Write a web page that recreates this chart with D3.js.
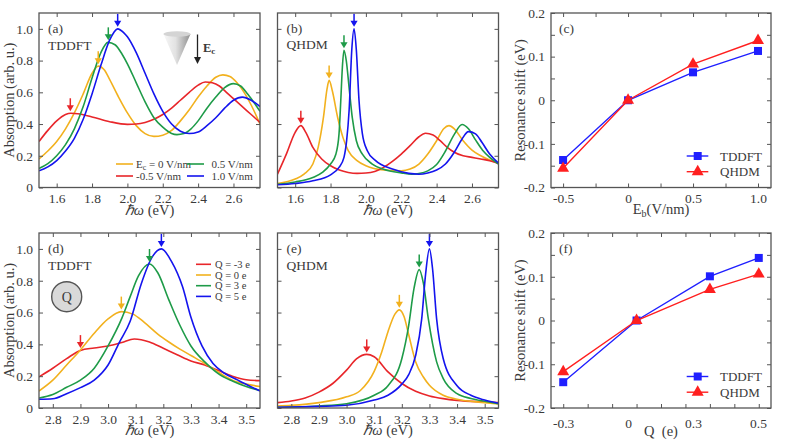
<!DOCTYPE html>
<html>
<head>
<meta charset="utf-8">
<script src="https://cdn.jsdelivr.net/npm/d3@7"></script>
<style>
  body { margin: 0; background: #fff; }
  svg, text { font-family: 'Liberation Serif', Tinos, 'Times New Roman', Times, serif; }
  text { fill: #3a3a3a; }
</style>
</head>
<body>
<div id="fig"></div>
<script>
// ---- data ----
// (a) TDDFT, external field E_c   [energy eV, absorption]
const aE0 = [[1.5,0.18],[1.55,0.23],[1.6,0.29],[1.65,0.37],[1.7,0.47],[1.75,0.59],[1.8,0.72],[1.835,0.765],[1.87,0.74],[1.9,0.68],[1.95,0.57],[2.0,0.47],[2.05,0.39],[2.1,0.34],[2.15,0.322],[2.2,0.33],[2.25,0.36],[2.3,0.42],[2.35,0.49],[2.4,0.57],[2.45,0.64],[2.5,0.695],[2.54,0.71],[2.58,0.7],[2.62,0.66],[2.66,0.6],[2.7,0.52],[2.75,0.4]];
const aEm05 = [[1.5,0.29],[1.55,0.36],[1.6,0.42],[1.65,0.46],[1.68,0.468],[1.72,0.465],[1.8,0.445],[1.9,0.415],[2.0,0.398],[2.05,0.4],[2.1,0.41],[2.15,0.43],[2.2,0.46],[2.25,0.5],[2.3,0.55],[2.35,0.6],[2.4,0.645],[2.44,0.665],[2.48,0.66],[2.52,0.64],[2.56,0.6],[2.6,0.56],[2.65,0.51],[2.7,0.46],[2.75,0.41]];
const aE05 = [[1.5,0.12],[1.55,0.15],[1.6,0.2],[1.65,0.27],[1.7,0.37],[1.75,0.51],[1.8,0.69],[1.85,0.85],[1.89,0.915],[1.93,0.9],[1.97,0.84],[2.0,0.78],[2.05,0.66],[2.1,0.54],[2.15,0.44],[2.2,0.38],[2.25,0.34],[2.28,0.333],[2.32,0.34],[2.36,0.37],[2.4,0.42],[2.45,0.5],[2.5,0.57],[2.55,0.63],[2.6,0.655],[2.64,0.64],[2.68,0.59],[2.72,0.53],[2.75,0.48]];
const aE10 = [[1.5,0.105],[1.55,0.13],[1.6,0.17],[1.65,0.23],[1.7,0.31],[1.75,0.43],[1.8,0.59],[1.85,0.77],[1.9,0.93],[1.945,1.0],[1.98,0.975],[2.0,0.95],[2.05,0.85],[2.1,0.72],[2.15,0.59],[2.2,0.48],[2.25,0.4],[2.3,0.355],[2.35,0.34],[2.4,0.35],[2.45,0.39],[2.5,0.44],[2.55,0.5],[2.6,0.55],[2.65,0.57],[2.7,0.55],[2.75,0.51]];
const aPeaks = [[1.835,0.765],[1.677,0.468],[1.892,0.915],[1.945,1.0]];

// (b) QHDM, external field
const bE0 = [[1.5,0.025],[1.6,0.053],[1.65,0.084],[1.7,0.148],[1.73,0.253],[1.76,0.443],[1.78,0.62],[1.792,0.675],[1.81,0.61],[1.84,0.443],[1.87,0.316],[1.9,0.232],[1.95,0.169],[2.0,0.137],[2.1,0.11],[2.2,0.105],[2.25,0.116],[2.3,0.148],[2.35,0.211],[2.4,0.295],[2.44,0.37],[2.47,0.39],[2.5,0.37],[2.55,0.295],[2.6,0.236],[2.65,0.2],[2.7,0.173],[2.75,0.154]];
const bEm05 = [[1.5,0.084],[1.55,0.21],[1.6,0.348],[1.632,0.39],[1.66,0.348],[1.7,0.253],[1.75,0.18],[1.8,0.137],[1.85,0.11],[1.9,0.095],[1.95,0.089],[2.0,0.091],[2.05,0.101],[2.1,0.127],[2.15,0.165],[2.2,0.211],[2.25,0.264],[2.3,0.32],[2.337,0.342],[2.38,0.331],[2.42,0.295],[2.46,0.253],[2.5,0.222],[2.55,0.2],[2.6,0.19],[2.65,0.18],[2.7,0.169],[2.75,0.152]];
const bE05 = [[1.5,0.02],[1.6,0.035],[1.7,0.063],[1.754,0.095],[1.8,0.148],[1.83,0.21],[1.848,0.338],[1.858,0.55],[1.867,0.76],[1.876,0.865],[1.889,0.8],[1.905,0.63],[1.923,0.44],[1.946,0.295],[1.98,0.21],[2.036,0.148],[2.1,0.115],[2.2,0.092],[2.26,0.084],[2.3,0.088],[2.35,0.105],[2.4,0.145],[2.45,0.23],[2.5,0.335],[2.544,0.397],[2.58,0.37],[2.62,0.3],[2.66,0.235],[2.7,0.19],[2.75,0.148]];
const bE10 = [[1.5,0.017],[1.6,0.025],[1.7,0.042],[1.8,0.08],[1.848,0.127],[1.876,0.19],[1.891,0.295],[1.905,0.485],[1.92,0.865],[1.933,1.0],[1.946,0.865],[1.961,0.55],[1.98,0.34],[2.008,0.232],[2.055,0.169],[2.15,0.116],[2.243,0.089],[2.3,0.084],[2.35,0.092],[2.4,0.11],[2.45,0.148],[2.5,0.222],[2.544,0.306],[2.58,0.352],[2.62,0.338],[2.656,0.285],[2.7,0.211],[2.75,0.154]];
const bPeaks = [[1.792,0.675],[1.632,0.39],[1.876,0.865],[1.933,1.0]];

// (d) TDDFT, charge Q
const dQm3 = [[2.75,0.196],[2.8,0.25],[2.85,0.31],[2.9,0.362],[2.95,0.377],[3.0,0.39],[3.05,0.412],[3.095,0.434],[3.15,0.415],[3.2,0.375],[3.25,0.335],[3.3,0.296],[3.35,0.27],[3.4,0.235],[3.45,0.2],[3.5,0.178],[3.55,0.172]];
const dQ0 = [[2.75,0.107],[2.8,0.175],[2.85,0.27],[2.9,0.365],[2.95,0.47],[3.0,0.56],[3.048,0.606],[3.09,0.59],[3.13,0.54],[3.18,0.465],[3.22,0.415],[3.26,0.37],[3.3,0.33],[3.35,0.28],[3.4,0.225],[3.45,0.175],[3.5,0.15],[3.55,0.135]];
const dQ3 = [[2.75,0.063],[2.8,0.085],[2.85,0.13],[2.9,0.175],[2.95,0.25],[3.0,0.39],[3.05,0.565],[3.08,0.7],[3.11,0.83],[3.15,0.905],[3.18,0.85],[3.22,0.68],[3.26,0.52],[3.3,0.39],[3.35,0.29],[3.4,0.215],[3.45,0.17],[3.5,0.135],[3.55,0.11]];
const dQ5 = [[2.75,0.055],[2.8,0.058],[2.85,0.09],[2.9,0.128],[2.95,0.175],[3.0,0.27],[3.04,0.41],[3.08,0.545],[3.12,0.78],[3.16,0.95],[3.193,1.0],[3.23,0.92],[3.27,0.76],[3.3,0.57],[3.34,0.39],[3.38,0.28],[3.42,0.22],[3.47,0.175],[3.51,0.14],[3.55,0.107]];
const dPeaks = [[2.9,0.364],[3.048,0.606],[3.15,0.905],[3.193,1.0]];

// (e) QHDM, charge Q
const eQm3 = [[2.75,0.034],[2.8,0.044],[2.85,0.063],[2.9,0.1],[2.95,0.154],[3.0,0.238],[3.037,0.31],[3.073,0.337],[3.1,0.322],[3.15,0.227],[3.2,0.154],[3.25,0.105],[3.3,0.076],[3.35,0.059],[3.4,0.048],[3.5,0.038],[3.55,0.034]];
const eQ0 = [[2.75,0.013],[2.8,0.017],[2.9,0.034],[3.0,0.07],[3.05,0.11],[3.1,0.23],[3.127,0.35],[3.15,0.48],[3.175,0.59],[3.191,0.617],[3.208,0.575],[3.225,0.46],[3.25,0.29],[3.278,0.195],[3.3,0.143],[3.35,0.08],[3.4,0.055],[3.5,0.034],[3.55,0.025]];
const eQ3 = [[2.75,0.005],[2.8,0.006],[2.9,0.013],[3.0,0.027],[3.1,0.08],[3.15,0.14],[3.2,0.31],[3.225,0.52],[3.244,0.75],[3.263,0.87],[3.278,0.785],[3.296,0.56],[3.326,0.29],[3.35,0.185],[3.4,0.09],[3.45,0.06],[3.5,0.042],[3.55,0.027]];
const eQ5 = [[2.75,0.004],[2.8,0.006],[2.9,0.01],[3.0,0.017],[3.1,0.05],[3.15,0.08],[3.2,0.15],[3.225,0.21],[3.25,0.33],[3.272,0.56],[3.286,0.84],[3.3,1.0],[3.311,0.88],[3.326,0.56],[3.35,0.31],[3.4,0.14],[3.45,0.08],[3.5,0.05],[3.55,0.03]];
const ePeaks = [[3.073,0.337],[3.191,0.617],[3.263,0.87],[3.3,1.0]];

// (c) resonance shift vs E_b
const cField = [-0.5, 0, 0.5, 1.0];
const cTDDFT = [-0.137, 0, 0.064, 0.113];
const cQHDM = [-0.156, 0, 0.083, 0.137];
// (f) resonance shift vs Q
const fCharge = [-3, 0, 3, 5];
const fTDDFT = [-0.141, 0, 0.101, 0.143];
const fQHDM = [-0.117, 0, 0.071, 0.106];
const fTickText = ["-0.3", "0", "0.3", "0.5"];

const fieldLegend = ["0 V/nm", "-0.5 V/nm", "0.5 V/nm", "1.0 V/nm"];
const chargeLegend = ["Q = -3 e", "Q = 0 e", "Q = 3 e", "Q = 5 e"];

// ---- style ----
const RED = "#e8262a", ORANGE = "#f2b11e", GREEN = "#1e9b48", BLUE = "#1414ee";
const FRAME = "#555";
const SERIF = "'Liberation Serif', Tinos, 'Times New Roman', Times, serif";

const svg = d3.select("#fig").append("svg")
  .attr("width", 789).attr("height", 447)
  .attr("font-family", SERIF);

const boxA = { x0: 39, x1: 260, y0: 13, y1: 187.5 };
const boxB = { x0: 277.5, x1: 498.5, y0: 13, y1: 187.5 };
const boxC = { x0: 551, x1: 771, y0: 13, y1: 187.5 };
const boxD = { x0: 39, x1: 260, y0: 233, y1: 408 };
const boxE = { x0: 277.5, x1: 498.5, y0: 233, y1: 408 };
const boxF = { x0: 551, x1: 771, y0: 233, y1: 408 };

const num = d => Math.abs(d) < 1e-9 ? "0" : d.toFixed(1);
const onStep = (d, s) => Math.abs(d / s - Math.round(d / s)) < 1e-6;

function styleAxis(g) {
  g.attr("font-family", SERIF).attr("font-size", 13.5).attr("color", FRAME);
  g.select(".domain").remove();
  g.selectAll(".tick line").attr("stroke-width", 1);
}

// frame + inward ticks on all four sides
function axes(box, x, y, xt, yt, xfmt, yfmt) {
  svg.append("g").attr("transform", `translate(0,${box.y1})`)
    .call(d3.axisBottom(x).tickValues(xt).tickSize(-4).tickPadding(6).tickFormat(xfmt || ""))
    .call(styleAxis);
  svg.append("g").attr("transform", `translate(0,${box.y0})`)
    .call(d3.axisTop(x).tickValues(xt).tickSize(-4).tickFormat(""))
    .call(styleAxis);
  svg.append("g").attr("transform", `translate(${box.x0},0)`)
    .call(d3.axisLeft(y).tickValues(yt).tickSize(-4).tickPadding(6).tickFormat(yfmt || ""))
    .call(styleAxis);
  svg.append("g").attr("transform", `translate(${box.x1},0)`)
    .call(d3.axisRight(y).tickValues(yt).tickSize(-4).tickFormat(""))
    .call(styleAxis);
  svg.append("rect")
    .attr("x", box.x0).attr("y", box.y0)
    .attr("width", box.x1 - box.x0).attr("height", box.y1 - box.y0)
    .attr("fill", "none").attr("stroke", FRAME).attr("stroke-width", 1.3);
}

function panelText(x, y, s, size) {
  return svg.append("text").attr("x", x).attr("y", y)
    .attr("font-size", size || 13.5).text(s);
}

let clipId = 0;
function spectrumPanel(box, xDomain, xTicks, showY, series, colors, peaks) {
  const x = d3.scaleLinear().domain(xDomain).range([box.x0, box.x1]);
  const y = d3.scaleLinear().domain([0, 1.1]).range([box.y1, box.y0]);
  const id = "clip" + (clipId++);
  svg.append("clipPath").attr("id", id).append("rect")
    .attr("x", box.x0).attr("y", box.y0)
    .attr("width", box.x1 - box.x0).attr("height", box.y1 - box.y0);

  const line = d3.line().x(d => x(d[0])).y(d => y(d[1])).curve(d3.curveMonotoneX);
  svg.append("g").attr("clip-path", `url(#${id})`)
    .selectAll("path").data(series).join("path")
    .attr("d", line)
    .attr("fill", "none")
    .attr("stroke", (d, i) => colors[i])
    .attr("stroke-width", 1.6);

  // peak arrows
  const ar = svg.append("g");
  peaks.forEach((p, i) => {
    const px = x(p[0]), tip = y(p[1]) - 2;
    ar.append("line").attr("x1", px).attr("x2", px)
      .attr("y1", tip - 13).attr("y2", tip - 4)
      .attr("stroke", colors[i]).attr("stroke-width", 1.5);
    ar.append("path")
      .attr("d", `M${px - 3.6},${tip - 6}L${px + 3.6},${tip - 6}L${px},${tip}Z`)
      .attr("fill", colors[i]);
  });

  const yfmt = showY ? (d => d === 0 ? "0" : d.toFixed(1)) : null;
  axes(box, x, y, xTicks, [0, 0.2, 0.4, 0.6, 0.8, 1.0], d => d.toFixed(1), yfmt);

  const cx = (box.x0 + box.x1) / 2;
  const t = svg.append("text").attr("x", cx).attr("y", box.y1 + 27)
    .attr("text-anchor", "middle").attr("font-size", 14.5);
  t.append("tspan").attr("font-style", "italic").text("ℏω");
  t.append("tspan").text(" (eV)");

  if (showY) {
    svg.append("text")
      .attr("transform", `translate(13.5,${(box.y0 + box.y1) / 2}) rotate(-90)`)
      .attr("text-anchor", "middle").attr("font-size", 14.5)
      .text("Absorption (arb. u.)");
  }
  return { x, y };
}

function shiftPanel(box, x, xs, tddft, qhdm, xTickVals, labelAxis) {
  const y = d3.scaleLinear().domain([-0.2, 0.2]).range([box.y1, box.y0]);
  const yTicks = d3.range(-0.2, 0.2001, 0.05).map(d => +d.toFixed(2));
  axes(box, x, y, xTickVals, yTicks, labelAxis ? null : (d => onStep(d, 0.5) ? num(d) : ""),
    d => onStep(d, 0.1) ? num(d) : "");
  if (labelAxis) {
    svg.append("g").attr("transform", `translate(0,${box.y1})`)
      .call(labelAxis.tickSize(0).tickPadding(10))
      .call(styleAxis);
  }

  const line = d3.line().x(d => x(d[0])).y(d => y(d[1]));
  const tPts = xs.map((v, i) => [v, tddft[i]]);
  const qPts = xs.map((v, i) => [v, qhdm[i]]);
  const BL = "#1f1fff", RD = "#ff1f1f";

  svg.append("path").attr("d", line(tPts)).attr("fill", "none").attr("stroke", BL).attr("stroke-width", 1.4);
  svg.append("g").selectAll("rect").data(tPts).join("rect")
    .attr("x", d => x(d[0]) - 4).attr("y", d => y(d[1]) - 4)
    .attr("width", 8).attr("height", 8).attr("fill", BL);
  svg.append("path").attr("d", line(qPts)).attr("fill", "none").attr("stroke", RD).attr("stroke-width", 1.4);
  const tri = d3.symbol(d3.symbolTriangle).size(62);
  svg.append("g").selectAll("path").data(qPts).join("path")
    .attr("d", tri)
    .attr("transform", d => `translate(${x(d[0])},${y(d[1])})`)
    .attr("fill", RD);

  // legend
  const lx0 = box.x0 + 135.7, lx1 = box.x0 + 157.3, mx = box.x0 + 146.7;
  const r1 = box.y1 - 31.5, r2 = box.y1 - 15.8;
  svg.append("line").attr("x1", lx0).attr("x2", lx1).attr("y1", r1).attr("y2", r1).attr("stroke", BL).attr("stroke-width", 1.4);
  svg.append("rect").attr("x", mx - 4).attr("y", r1 - 4).attr("width", 8).attr("height", 8).attr("fill", BL);
  svg.append("line").attr("x1", lx0).attr("x2", lx1).attr("y1", r2).attr("y2", r2).attr("stroke", RD).attr("stroke-width", 1.4);
  svg.append("path").attr("d", tri).attr("transform", `translate(${mx},${r2})`).attr("fill", RD);
  panelText(box.x0 + 169, r1 + 4.7, "TDDFT", 13);
  panelText(box.x0 + 169, r2 + 4.7, "QHDM", 13);

  svg.append("text")
    .attr("transform", `translate(525,${(box.y0 + box.y1) / 2}) rotate(-90)`)
    .attr("text-anchor", "middle").attr("font-size", 14.5)
    .text("Resonance shift (eV)");
}

// ---- (a) ----
const fieldColors = [ORANGE, RED, GREEN, BLUE];
spectrumPanel(boxA, [1.5, 2.75], [1.6, 1.8, 2.0, 2.2, 2.4, 2.6], true,
  [aE0, aEm05, aE05, aE10], fieldColors, aPeaks);
panelText(48, 33, "(a)");
panelText(48, 50, "TDDFT");

// legend (a)
[[0, 0], [0, 1], [1, 0], [1, 1]].forEach(([col, row], i) => {
  const lx = col === 0 ? 116 : 187, tx = col === 0 ? 136 : 211.5;
  const ly = row === 0 ? 164 : 176;
  svg.append("line").attr("x1", lx).attr("x2", lx + 17).attr("y1", ly).attr("y2", ly)
    .attr("stroke", fieldColors[i]).attr("stroke-width", 1.6);
  const t = svg.append("text").attr("x", tx).attr("y", ly + 3.6).attr("font-size", 11);
  if (i === 0) {
    t.append("tspan").text("E");
    t.append("tspan").attr("font-size", 8).attr("dy", 2.5).text("c");
    t.append("tspan").attr("dy", -2.5).text(" = " + fieldLegend[i]);
  } else {
    t.text(fieldLegend[i]);
  }
});

// cone + field arrow
const defs = svg.append("defs");
const cg = defs.append("linearGradient").attr("id", "coneGrad").attr("x1", 0).attr("x2", 1);
cg.append("stop").attr("offset", 0).attr("stop-color", "#f7f7f7");
cg.append("stop").attr("offset", 0.45).attr("stop-color", "#e2e2e2");
cg.append("stop").attr("offset", 1).attr("stop-color", "#8f8f8f");
svg.append("path").attr("d", "M163.5,34 L177,65 L190.5,34 Z").attr("fill", "url(#coneGrad)");
svg.append("ellipse").attr("cx", 177).attr("cy", 34).attr("rx", 13.5).attr("ry", 2.8).attr("fill", "#d4d4d4");
svg.append("line").attr("x1", 197.5).attr("x2", 197.5).attr("y1", 34.5).attr("y2", 58)
  .attr("stroke", "#222").attr("stroke-width", 1.3);
svg.append("path").attr("d", "M194,57 L201,57 L197.5,64 Z").attr("fill", "#222");
const ec = svg.append("text").attr("x", 203).attr("y", 51.5).attr("font-size", 12.5).attr("font-weight", "bold");
ec.append("tspan").text("E");
ec.append("tspan").attr("font-size", 9).attr("dy", 2.5).text("c");

// ---- (b) ----
spectrumPanel(boxB, [1.5, 2.75], [1.6, 1.8, 2.0, 2.2, 2.4, 2.6], false,
  [bE0, bEm05, bE05, bE10], fieldColors, bPeaks);
panelText(286.5, 33, "(b)");
panelText(286.5, 48.5, "QHDM");

// ---- (d) ----
const chargeColors = [RED, ORANGE, GREEN, BLUE];
const qTicks = [2.8, 2.9, 3.0, 3.1, 3.2, 3.3, 3.4, 3.5];
spectrumPanel(boxD, [2.75, 3.55], qTicks, true,
  [dQm3, dQ0, dQ3, dQ5], chargeColors, dPeaks);
panelText(48, 253, "(d)");
panelText(48, 270, "TDDFT");
chargeLegend.forEach((s, i) => {
  const ly = 264.3 + i * 10.7;
  svg.append("line").attr("x1", 196).attr("x2", 211).attr("y1", ly).attr("y2", ly)
    .attr("stroke", chargeColors[i]).attr("stroke-width", 1.6);
  panelText(215, ly + 3.5, s, 10.5);
});
svg.append("circle").attr("cx", 66.7).attr("cy", 296.7).attr("r", 15)
  .attr("fill", "#d9d9d9").attr("stroke", "#555").attr("stroke-width", 1.4);
panelText(66.7, 301.5, "Q", 14).attr("text-anchor", "middle");

// ---- (e) ----
spectrumPanel(boxE, [2.75, 3.55], qTicks, false,
  [eQm3, eQ0, eQ3, eQ5], chargeColors, ePeaks);
panelText(286.5, 253, "(e)");
panelText(286.5, 270, "QHDM");

// ---- (c) ----
const xC = d3.scaleLinear().domain([-0.593, 1.1]).range([boxC.x0, boxC.x1]);
shiftPanel(boxC, xC, cField, cTDDFT, cQHDM, [-0.5, -0.25, 0, 0.25, 0.5, 0.75, 1.0], null);
panelText(559, 33, "(c)");
const eb = svg.append("text").attr("x", 661).attr("y", 214).attr("text-anchor", "middle").attr("font-size", 14.5);
eb.append("tspan").text("E");
eb.append("tspan").attr("font-size", 10).attr("dy", 3).text("b");
eb.append("tspan").attr("dy", -3).text("(V/nm)");

// ---- (f) ----
const xF = d3.scaleLinear().domain([-3.5, 5.5]).range([boxF.x0, boxF.x1]);
const xFLabels = d3.axisBottom(xC.copy()).tickValues([-0.5, 0, 0.5, 1.0]).tickFormat((d, i) => fTickText[i]);
shiftPanel(boxF, xF, fCharge, fTDDFT, fQHDM, d3.range(-3, 6), xFLabels);
panelText(559, 253, "(f)");
svg.append("text").attr("x", 661).attr("y", 436).attr("text-anchor", "middle")
  .attr("font-size", 14.5).attr("xml:space", "preserve").text("Q  (e)");
</script>
</body>
</html>
